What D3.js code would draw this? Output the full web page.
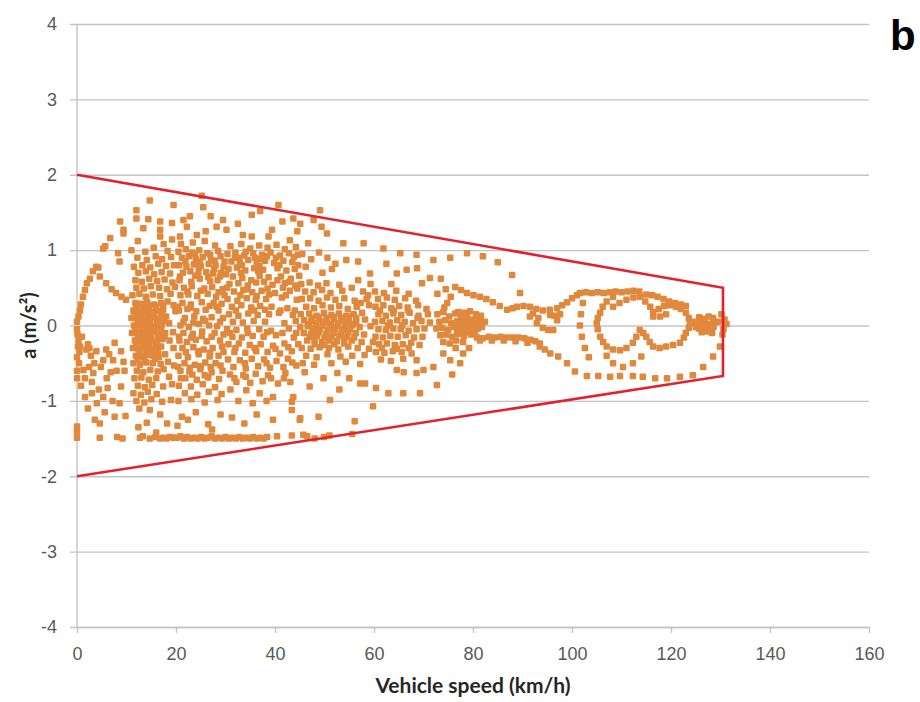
<!DOCTYPE html>
<html>
<head>
<meta charset="utf-8">
<script src="https://cdn.jsdelivr.net/npm/d3@7"></script>
<style>
  body { margin: 0; background: #fff; }
  svg { display: block; font-family: Lato, "Open Sans", sans-serif; }
</style>
</head>
<body>
<svg width="920" height="702"></svg>
<script>
// axis ticks
const speedTicks = [0, 20, 40, 60, 80, 100, 120, 140, 160];
const accelTicks = [-4, -3, -2, -1, 0, 1, 2, 3, 4];

// red envelope (speed, accel)
const envSpeed = [0, 130.5, 130.5, 0];
const envAccel = [2, 0.5, -0.67, -2];

// measured points [speed km/h, a m/s2], grouped by speed range
const pts0to10 = [
  [0,0.05],[0,-0.05],[0.1,-0.12],[0.3,0.12],[0.3,-0.2],[0.2,-0.28],[0.6,0.2],[0.5,-0.35],[0,-0.42],
  [0.8,0.28],[1.2,0.38],[1.6,0.47],[2.0,0.56],[2.6,0.62],[3.2,0.72],[3.9,0.78],[4.3,0.77],
  [4.6,0.65],[5.9,0.56],[7.0,0.48],[7.9,0.43],[9.0,0.38],[9.9,0.34],
  [5.3,1.02],[5.7,1.05],[6.7,1.16],[8.3,0.96],[8.6,0.85],[9.4,1.22],[8.7,1.38],[9.4,1.27],
  [0.6,-0.28],[1.9,-0.32],[3.9,-0.34],[5.9,-0.32],[7.6,-0.23],[8.9,-0.34],[5.3,-0.46],[7.3,-0.46],[9.4,-0.48],
  [1.3,-0.59],[3.3,-0.63],[1.6,-0.7],[2.4,-0.55],[8.9,-0.81],[6.2,-0.83],[3.0,-0.9],
  [1.6,-0.95],[4.0,-1.03],[5.3,-0.95],[8.6,-1.03],[7.6,-1.21],[9.6,-0.6],[0,-0.6],[0,-0.7],
  [0,-1.34],[0,-1.41],[0,-1.49],[4.6,-1.49],[8.1,-1.48],[9.2,-1.5],[2.2,-1.1],[4.6,-1.3],
  [2.8,-0.4],[4.8,-0.55],[6.8,-0.62],[8.0,-0.6],[6.5,-0.38],[3.5,-0.5],[0.4,-0.5],
  [1.0,-0.15],[2.2,-0.25],[3.0,-0.75],[4.4,-0.85],[6.0,-0.7],[7.2,-1.0],[2.5,-0.3],[0.8,-0.8],[5.6,-1.15],[9.8,-1.2],[3.6,-1.25]
];

const pts10to20 = [
  [14.7,1.66],[19.5,1.6],[12,1.53],[14.4,1.41],[16.8,1.38],[19.2,1.36],[12,1.42],[16.8,1.27],[13.4,1.29],[16.8,1.18],
  [12.3,1.12],[17.5,1.08],[19.2,1.14],
  [11.0,1.0],[13.8,0.98],[15.5,1.03],[18.3,0.99],
  [12.2,0.9],[14.1,0.87],[15.9,0.92],[17.2,0.88],[19.0,0.91],
  [11.5,0.78],[13.2,0.8],[14.8,0.77],[16.4,0.82],[18.0,0.79],[19.6,0.8],
  [12.4,0.7],[13.9,0.72],[15.6,0.68],[17.1,0.71],[18.8,0.69],
  [11.8,0.6],[13.1,0.58],[14.6,0.62],[16.2,0.59],[17.7,0.61],[19.3,0.57],
  [12.0,0.5],[13.5,0.49],[14.9,0.52],[16.6,0.5],[18.2,0.48],[19.8,0.51],
  [11.2,0.4],[12.6,0.42],[13.9,0.38],[15.3,0.41],[16.8,0.39],[18.9,0.42],
  [11.8,0.3],[13.0,0.29],[14.2,0.31],[15.6,0.28],[17.0,0.3],[18.3,0.32],[19.5,0.27],
  [11.4,0.2],[12.6,0.19],[13.7,0.22],[14.9,0.18],[16.1,0.2],[17.4,0.21],[19.9,0.19],
  [11.0,0.1],[12.1,0.12],[13.2,0.08],[14.4,0.1],[15.5,0.11],[16.7,0.09],[18.0,0.12],
  [11.5,0.0],[12.6,0.02],[13.7,-0.01],[14.8,0.01],[15.9,-0.02],[17.1,0.0],[18.6,0.03],
  [11.1,-0.1],[12.2,-0.09],[13.3,-0.11],[14.3,-0.1],[15.4,-0.08],[16.6,-0.12],[17.8,-0.1],[19.4,-0.09],
  [11.7,-0.2],[12.8,-0.21],[13.9,-0.19],[15.0,-0.2],[16.2,-0.22],[17.3,-0.18],[18.7,-0.2],
  [11.3,-0.3],[12.4,-0.31],[13.5,-0.29],[14.6,-0.3],[15.8,-0.32],[17.0,-0.28],[19.5,-0.3],
  [11.9,-0.4],[13.1,-0.41],[14.2,-0.39],[15.4,-0.4],[16.5,-0.42],[17.8,-0.38],
  [11.4,-0.5],[12.7,-0.52],[14.0,-0.49],[15.3,-0.5],[16.9,-0.51],[18.4,-0.48],[19.6,-0.53],
  [12.1,-0.6],[13.4,-0.62],[14.8,-0.59],[16.3,-0.61],[17.5,-0.58],
  [11.6,-0.7],[13.0,-0.69],[14.5,-0.72],[16.0,-0.7],[18.6,-0.68],
  [12.3,-0.8],[13.7,-0.82],[15.2,-0.79],[17.4,-0.81],[19.2,-0.78],
  [11.4,-0.9],[12.9,-0.92],[14.3,-0.88],[16.1,-0.91],
  [12.0,-1.0],[13.6,-1.02],[15.0,-0.98],[17.2,-1.01],[19.0,-0.99],
  [12.6,-1.1],[14.7,-1.12],[16.8,-1.18],[14.1,-1.29],[12.4,-1.35],[16.0,-1.42],[18.2,-1.3],
  [12.7,-1.49],[13.3,-1.47],[14.7,-1.5],[15.8,-1.48],[16.8,-1.5],[17.4,-1.49],[18.1,-1.5],[18.8,-1.48],[19.5,-1.49]
];

const pts20to30 = [
  [20.8,1.18],[22.2,1.31],[24.2,1.2],[25.5,1.57],[25.2,1.72],[22.8,1.45],[27.0,1.45],[28.2,1.31],[29.5,1.4],[21.5,1.4],[26.0,1.25],
  [21.0,1.08],[23.4,1.1],[25.8,1.12],[27.9,1.06],
  [20.5,0.98],[22.0,1.01],[23.3,0.97],[24.7,1.0],[26.3,0.96],[28.5,0.99],
  [21.2,0.9],[22.6,0.92],[24.0,0.88],[25.4,0.91],[27.1,0.87],[29.0,0.92],
  [20.6,0.8],[22.1,0.78],[23.6,0.81],[25.0,0.79],[26.6,0.82],[28.0,0.8],[29.6,0.78],
  [21.4,0.7],[22.9,0.72],[24.5,0.68],[26.1,0.71],[27.5,0.69],[29.1,0.7],
  [20.7,0.6],[23.1,0.58],[24.8,0.62],[26.9,0.59],[28.4,0.6],
  [21.6,0.5],[23.2,0.52],[25.7,0.49],[27.3,0.51],[29.4,0.48],
  [20.9,0.4],[22.5,0.41],[24.3,0.39],[26.4,0.42],[28.1,0.38],[29.8,0.4],
  [21.3,0.3],[23.0,0.28],[25.2,0.31],[27.6,0.3],[29.2,0.29],
  [20.6,0.2],[22.3,0.22],[24.1,0.19],[26.0,0.21],[28.6,0.2],
  [21.8,0.1],[23.7,0.12],[25.5,0.09],[27.2,0.11],[29.5,0.1],
  [20.9,0.0],[22.6,-0.02],[24.6,0.02],[26.7,0.0],[28.3,-0.01],
  [21.5,-0.1],[23.4,-0.11],[25.3,-0.08],[27.8,-0.1],[29.6,-0.12],
  [20.7,-0.2],[22.2,-0.22],[24.0,-0.19],[26.2,-0.21],[28.9,-0.2],
  [21.3,-0.3],[23.5,-0.29],[25.6,-0.32],[27.4,-0.3],[29.3,-0.28],
  [20.5,-0.4],[22.4,-0.42],[24.6,-0.38],[26.8,-0.41],[28.6,-0.4],
  [21.7,-0.5],[23.8,-0.52],[25.9,-0.49],[28.0,-0.5],
  [20.9,-0.6],[22.7,-0.61],[24.9,-0.58],[27.2,-0.62],[29.4,-0.6],
  [21.9,-0.7],[24.2,-0.72],[26.5,-0.69],[28.7,-0.71],
  [20.6,-0.8],[23.0,-0.81],[25.4,-0.78],[27.9,-0.82],
  [21.8,-0.9],[24.3,-0.92],[26.6,-0.88],[29.2,-0.91],
  [20.5,-1.0],[23.1,-0.98],[25.8,-1.02],[28.4,-0.99],
  [21.2,-1.21],[22.4,-1.25],[26.5,-1.31],[27.3,-1.38],[24.0,-1.15],[29.0,-1.18],[20.3,-1.33],
  [20.2,-1.49],[20.9,-1.47],[21.6,-1.5],[22.3,-1.48],[23.0,-1.5],[23.7,-1.49],[24.4,-1.5],[25.1,-1.48],
  [25.8,-1.5],[26.5,-1.49],[27.2,-1.47],[27.9,-1.5],[28.6,-1.49]
];

const pts30to45 = [
  [30.2,1.27],[35.3,1.47],[40.7,1.6],[43.7,1.42],[39.4,1.27],[35.3,1.18],[38.7,1.18],[43.0,1.13],[32.5,1.35],[37.0,1.52],[41.5,1.38],[44.5,1.25],[33.5,1.2],
  [31.0,1.05],[33.2,1.08],[35.0,1.02],[36.8,1.06],[38.5,1.03],[40.3,1.07],[42.0,1.01],[44.2,1.04],
  [30.4,0.95],[32.0,0.97],[33.8,0.93],[35.6,0.96],[37.4,0.94],[39.1,0.97],[41.0,0.93],[42.8,0.96],[44.6,0.94],
  [31.2,0.85],[32.9,0.83],[34.6,0.87],[36.3,0.84],[38.0,0.86],[39.8,0.83],[41.7,0.86],[43.5,0.84],
  [30.6,0.75],[32.3,0.77],[34.0,0.73],[35.8,0.76],[37.6,0.74],[40.5,0.76],[42.3,0.73],[44.0,0.75],
  [31.5,0.65],[33.4,0.63],[36.9,0.66],[38.7,0.64],[41.2,0.65],[43.2,0.62],[44.9,0.66],
  [30.8,0.55],[32.6,0.56],[34.5,0.53],[36.2,0.57],[39.5,0.54],[42.0,0.56],[44.1,0.53],
  [31.7,0.45],[33.6,0.47],[35.4,0.44],[37.3,0.46],[40.0,0.43],[43.0,0.46],
  [30.4,0.35],[32.4,0.33],[34.3,0.36],[36.1,0.34],[38.2,0.35],[41.4,0.37],[44.4,0.34],
  [31.3,0.25],[33.2,0.27],[35.2,0.24],[37.0,0.26],[39.3,0.25],[42.5,0.23],
  [30.7,0.15],[32.6,0.13],[34.6,0.16],[36.5,0.14],[38.8,0.15],[40.8,0.17],[43.6,0.14],
  [31.5,0.05],[33.5,0.04],[35.7,0.06],[38.0,0.05],[41.9,0.03],[44.2,0.06],
  [30.3,-0.05],[32.2,-0.06],[34.4,-0.04],[36.8,-0.05],[39.2,-0.07],[42.8,-0.04],
  [31.4,-0.15],[33.3,-0.16],[35.5,-0.14],[37.7,-0.15],[40.2,-0.13],[43.8,-0.16],
  [30.6,-0.25],[32.7,-0.24],[34.9,-0.26],[37.1,-0.25],[39.6,-0.27],[41.9,-0.24],[44.7,-0.25],
  [31.8,-0.35],[34.0,-0.36],[36.2,-0.34],[38.5,-0.35],[41.0,-0.37],[43.4,-0.34],
  [30.5,-0.45],[32.9,-0.46],[35.3,-0.44],[37.8,-0.45],[40.3,-0.47],[42.6,-0.44],
  [31.6,-0.55],[34.1,-0.57],[36.6,-0.54],[39.0,-0.56],[41.7,-0.55],[44.3,-0.53],
  [30.9,-0.65],[33.6,-0.66],[36.1,-0.64],[38.6,-0.66],[42.1,-0.63],
  [32.2,-0.75],[35.0,-0.76],[37.5,-0.74],[40.6,-0.77],[43.1,-0.75],
  [31.0,-0.85],[34.2,-0.86],[36.9,-0.9],[39.6,-0.95],[43.7,-0.95],
  [32.6,-1.0],[35.5,-1.03],[38.3,-1.0],[43.4,-1.01],[43.4,-1.12],
  [31.3,-1.22],[36.3,-1.18],[39.6,-1.25],[45.0,-1.25],[33.8,-1.3],
  [29.3,-1.5],[30.0,-1.48],[30.7,-1.5],[31.4,-1.49],[32.1,-1.5],[32.8,-1.48],[33.5,-1.5],[34.2,-1.49],
  [34.9,-1.5],[35.6,-1.48],[36.3,-1.5],[37.0,-1.49],[37.7,-1.5],[38.4,-1.48],[40.4,-1.47],[43.4,-1.46],[45.7,-1.45]
];

const pts45to60 = [
  [49.1,1.53],[45.1,1.35],[49.4,1.31],[46.7,1.09],[53.8,1.09],[57.9,1.09],[50.5,1.22],[47.8,1.4],
  [45.5,0.95],[47.3,0.88],[48.9,0.97],[50.6,0.9],[52.2,0.82],[54.4,0.87],[56.8,0.85],[59.2,0.69],[56.8,0.6],[51.5,0.75],[46.2,0.78],[49.6,0.7],
  [45.3,0.55],[47.0,0.57],[48.7,0.53],[50.4,0.56],[53.0,0.54],[55.5,0.5],
  [46.1,0.45],[47.8,0.44],[49.5,0.47],[51.2,0.43],[53.6,0.46],[57.8,0.45],
  [45.4,0.35],[47.1,0.36],[48.8,0.33],[50.5,0.37],[52.2,0.34],[54.0,0.36],[56.1,0.33],[58.5,0.35],
  [46.3,0.25],[47.9,0.23],[49.6,0.27],[51.3,0.24],[53.0,0.26],[54.7,0.22],[56.5,0.25],[59.0,0.27],
  [45.2,0.15],[46.9,0.16],[48.4,0.13],[49.9,0.17],[51.4,0.14],[52.9,0.16],[54.4,0.13],[55.9,0.15],[57.6,0.17],
  [45.9,0.07],[47.4,0.06],[48.9,0.08],[50.4,0.05],[51.9,0.08],[53.4,0.06],[54.9,0.07],[56.4,0.05],[58.2,0.08],
  [45.1,-0.02],[46.6,-0.01],[48.1,-0.03],[49.6,0.0],[51.1,-0.02],[52.6,-0.01],[54.1,-0.03],[55.6,0.0],[57.1,-0.02],[59.3,-0.01],
  [45.8,-0.1],[47.3,-0.11],[48.8,-0.09],[50.3,-0.12],[51.8,-0.1],[53.3,-0.11],[54.8,-0.09],[56.3,-0.1],[58.0,-0.12],
  [46.5,-0.2],[48.0,-0.19],[49.5,-0.22],[51.0,-0.2],[52.5,-0.21],[54.0,-0.18],[55.5,-0.2],[57.5,-0.22],
  [45.4,-0.3],[47.2,-0.31],[49.0,-0.29],[50.9,-0.3],[52.8,-0.32],[54.8,-0.28],[56.7,-0.3],[59.0,-0.31],
  [46.3,-0.4],[48.4,-0.42],[50.6,-0.38],[53.2,-0.41],[55.6,-0.4],[58.1,-0.39],
  [45.6,-0.5],[47.9,-0.52],[51.4,-0.5],[54.3,-0.48],[57.2,-0.51],
  [49.8,-0.7],[47.0,-0.81],[45.1,-1.23],[48.8,-1.21],[51.1,-0.99],[56.1,-1.27],[59.8,-1.07],[58.2,-0.77],
  [46.0,-0.62],[52.6,-0.63],[55.0,-0.7],[53.0,-0.85],
  [46.5,-1.47],[48.0,-1.5],[49.9,-1.48],[51.0,-1.46],[55.6,-1.44]
];

const pts60to75 = [
  [61.9,1.02],[65.3,0.96],[64.6,0.69],[66.6,0.74],[68.6,0.94],[68.7,0.76],[62.5,0.82],[71.3,0.63],[69.7,0.56],[72.0,0.87],[63.5,0.55],
  [60.2,0.45],[62.0,0.43],[64.5,0.46],[67.0,0.42],
  [60.8,0.35],[62.6,0.37],[64.2,0.34],[66.3,0.36],[68.5,0.33],
  [60.3,0.25],[61.9,0.27],[63.5,0.23],[65.1,0.26],[66.8,0.24],[68.9,0.27],[70.6,0.22],
  [60.9,0.15],[62.4,0.13],[63.9,0.16],[65.5,0.14],[67.2,0.17],[69.0,0.13],[70.9,0.15],
  [60.2,0.05],[61.7,0.06],[63.2,0.04],[64.7,0.07],[66.2,0.05],[67.9,0.03],[69.6,0.06],[71.3,0.04],
  [60.9,-0.05],[62.4,-0.06],[63.9,-0.04],[65.4,-0.05],[67.0,-0.07],[68.6,-0.05],[70.2,-0.04],
  [60.3,-0.15],[61.8,-0.16],[63.3,-0.14],[64.8,-0.15],[66.4,-0.13],[68.1,-0.16],[69.8,-0.15],
  [61.0,-0.25],[62.6,-0.24],[64.2,-0.26],[65.8,-0.25],[67.5,-0.23],[69.2,-0.26],
  [60.4,-0.35],[62.1,-0.36],[63.8,-0.34],[65.6,-0.35],[67.6,-0.37],
  [61.4,-0.45],[63.4,-0.47],[65.9,-0.44],[68.6,-0.46],
  [60.4,-0.83],[62.9,-0.9],[65.9,-0.9],[64.6,-0.59],[69.3,-0.9],[57.2,-0.77],[68.6,-0.63],[70.0,-0.59],
  [72.0,-0.55],[72.7,-0.79],[66.0,-0.62]
];

const pts75to100 = [
  [75.4,0.9],[78.8,0.96],[82.0,0.92],[85.0,0.84],[87.9,0.67],[89.5,0.43],[73.5,0.62],[74.5,0.48],[72.8,0.42],
  [72.8,0.15],[74.0,0.18],[75.2,0.12],[76.4,0.16],[77.6,0.1],[78.8,0.13],[80.0,0.08],[81.2,0.1],
  [73.2,0.05],[74.4,0.07],[75.6,0.03],[76.8,0.06],[78.0,0.02],[79.2,0.05],[80.4,0.01],[81.6,0.03],[82.4,0.05],
  [72.6,-0.04],[73.8,-0.03],[75.0,-0.06],[76.2,-0.02],[77.4,-0.05],[78.6,-0.03],[79.8,-0.06],[81.0,-0.04],
  [73.4,-0.13],[74.6,-0.12],[75.8,-0.15],[77.0,-0.11],[78.2,-0.14],[79.6,-0.12],
  [74.0,-0.22],[75.3,-0.24],[76.6,-0.2],[78.0,-0.22],
  [76.4,0.51],[77.6,0.47],[78.8,0.43],[80.1,0.4],[81.4,0.38],[82.7,0.35],[84.0,0.31],[85.4,0.26],[86.9,0.21],
  [88.0,0.23],[88.9,0.25],[90.2,0.26],[91.5,0.25],[92.8,0.22],[94.1,0.2],[95.5,0.21],[97.0,0.23],[98.0,0.27],[99.0,0.31],[100.0,0.36],
  [74.8,0.3],[75.5,0.38],[74.2,0.24],
  [80.8,-0.16],[82.0,-0.17],[83.2,-0.15],[84.4,-0.16],[85.6,-0.15],[86.8,-0.16],[88.0,-0.16],[89.2,-0.16],
  [90.4,-0.17],[91.6,-0.19],[92.6,-0.21],[93.5,-0.24],
  [81.4,-0.2],[83.8,-0.2],[86.2,-0.2],[88.6,-0.21],[91.0,-0.23],
  [92.1,0.16],[92.9,0.03],[94.1,-0.03],[95.2,-0.06],[96.2,-0.06],[97.0,0.07],[96.4,0.13],[95.6,0.14],[91.5,0.12],[93.2,0.1],[97.6,0.15],
  [93.5,-0.28],[94.5,-0.32],[95.6,-0.37],[97.2,-0.41],[99.0,-0.5],
  [75.4,-0.46],[77.4,-0.5],[78.0,-0.37],[74.0,-0.37],[75.8,-0.65],[79.2,-0.3],[76.5,-0.3]
];

const pts100to132 = [
  [101.0,0.4],[101.6,0.43],[102.8,0.44],[104.0,0.43],[105.2,0.44],[106.4,0.43],[107.6,0.44],[108.8,0.45],[110.0,0.44],[111.2,0.45],
  [112.4,0.46],[113.6,0.45],[115.0,0.41],[116.2,0.4],[117.3,0.38],[118.5,0.35],[119.6,0.32],[120.8,0.3],[122.0,0.28],[123.0,0.26],
  [108.3,0.38],[107.0,0.32],[106.2,0.25],[105.7,0.17],[105.2,0.1],[105.0,0.03],[105.2,-0.05],[105.7,-0.15],[106.3,-0.22],
  [107.0,-0.28],[108.3,-0.32],[109.7,-0.33],[111.0,-0.3],[112.3,-0.23],[113.0,-0.15],[113.7,-0.06],[114.4,-0.1],[115.0,-0.15],
  [115.7,-0.22],[116.4,-0.28],[117.7,-0.3],[119.0,-0.28],[120.4,-0.26],[121.8,-0.23],[122.6,-0.16],[123.0,-0.1],[123.6,-0.03],
  [123.8,0.03],[123.6,0.1],[123.0,0.17],[122.0,0.22],[121.0,0.25],[119.8,0.27],[118.6,0.26],[117.5,0.22],
  [108.3,0.25],[109.6,0.3],[111.0,0.34],[112.4,0.37],[113.7,0.38],[114.8,0.32],[115.8,0.25],[116.4,0.18],[116.4,0.12],[117.8,0.12],[119.0,0.15],
  [102.2,0.3],[101.8,0.15],[101.6,0.0],[102.0,-0.15],[102.6,-0.3],[103.4,-0.42],
  [100.6,-0.61],[103.0,-0.67],[105.3,-0.67],[107.7,-0.68],[109.7,-0.67],[112.3,-0.67],[114.3,-0.68],[116.8,-0.7],
  [119.2,-0.7],[121.8,-0.68],[124.4,-0.66],[126.5,-0.55],[128.5,-0.41],[129.9,-0.28],
  [108.3,-0.5],[110.3,-0.55],[112.3,-0.5],[114.0,-0.41],[107.0,-0.4],
  [125.7,0.11],[126.6,0.09],[127.6,0.12],[128.5,0.1],[125.9,0.03],[126.9,0.05],[127.9,0.02],[128.7,0.04],
  [125.6,-0.04],[126.7,-0.03],[127.7,-0.05],[128.6,-0.02],[126.2,-0.09],[127.4,-0.08],[128.3,-0.1],
  [130.2,0.15],[130.8,0.08],[131.2,0.02],[130.6,-0.05],[130.4,-0.12],[129.6,0.05],[124.6,0.05],[125.0,-0.02]
];

// extra points where the cloud is packed solid
const densePts = [
  [12.0,0.25],[13.3,0.24],[14.6,0.26],[16.0,0.25],[17.4,0.26],
  [11.6,0.15],[12.9,0.14],[14.2,0.16],[15.5,0.15],[16.9,0.14],
  [12.2,0.05],[13.5,0.06],[14.8,0.04],[16.2,0.05],[17.6,0.06],
  [11.8,-0.05],[13.1,-0.04],[14.4,-0.06],[15.7,-0.05],[17.0,-0.04],
  [12.3,-0.15],[13.6,-0.14],[14.9,-0.16],[16.3,-0.15],[17.7,-0.14],
  [12.0,-0.25],[13.3,-0.26],[14.6,-0.24],[15.9,-0.25],
  [12.6,-0.35],[13.9,-0.34],[15.1,-0.36],[16.4,-0.35],
  [12.2,-0.45],[13.6,-0.46],[15.8,-0.44],
  [47.4,0.1],[48.9,0.11],[50.4,0.1],[51.9,0.11],[53.4,0.1],[54.9,0.12],[56.4,0.1],
  [46.8,0.02],[48.3,0.03],[49.8,0.04],[51.3,0.02],[52.8,0.03],[54.3,0.04],[55.8,0.02],
  [47.6,-0.06],[49.1,-0.05],[50.6,-0.06],[52.1,-0.05],[53.6,-0.06],[55.1,-0.05],
  [47.0,-0.15],[48.5,-0.14],[50.0,-0.16],[51.5,-0.15],[53.0,-0.14],[54.5,-0.15],[56.0,-0.16],
  [48.0,-0.25],[50.0,-0.26],[52.0,-0.25],[54.0,-0.24],
  [77.0,0.18],[78.2,0.17],[79.4,0.19],[80.6,0.15],[81.6,0.13],
  [77.2,0.0],[78.4,0.08],[79.6,0.0],[80.8,0.06],[81.8,-0.02],
  [76.8,-0.08],[78.0,-0.08],[79.2,-0.09],[80.4,-0.1],
  [23.8,0.95],[26.9,0.94],[29.8,0.85],[31.9,0.9],[34.1,0.98],[36.0,0.9],[38.4,0.92],
  [24.6,0.76],[27.7,0.75],[30.1,0.68],[33.1,0.7],[36.6,0.72]
];

// more points between the rows of the 20-70 km/h cloud
const fillPts = [
  [21.9,0.85],[24.8,0.84],[27.8,0.86],
  [20.8,0.65],[23.9,0.66],[26.5,0.64],[28.9,0.65],
  [22.3,0.45],[25.0,0.46],[28.6,0.44],
  [20.4,0.25],[22.9,0.24],[26.8,0.26],[28.2,0.25],
  [21.5,0.05],[23.5,0.04],[25.9,0.06],[28.9,0.05],
  [20.6,-0.15],[23.1,-0.16],[25.2,-0.14],[27.2,-0.15],
  [22.0,-0.35],[24.5,-0.34],[26.9,-0.36],[29.6,-0.35],
  [20.4,-0.55],[22.8,-0.56],[25.0,-0.54],[27.0,-0.55],[29.0,-0.53],
  [23.3,-0.65],[25.8,-0.66],[21.0,-0.7],
  [32.8,0.9],[37.0,0.88],[40.2,0.9],[43.8,0.91],
  [33.3,0.8],[36.9,0.79],[40.9,0.8],[44.7,0.8],
  [35.2,0.6],[37.8,0.58],[40.5,0.6],[42.9,0.58],
  [30.3,0.5],[34.4,0.48],[38.5,0.49],[41.6,0.5],[44.5,0.49],
  [33.0,0.4],[36.3,0.39],[38.8,0.41],[42.2,0.4],
  [32.1,0.2],[35.8,0.2],[38.0,0.21],[41.1,0.2],[44.0,0.2],
  [30.9,-0.1],[34.5,-0.1],[38.4,-0.09],[41.5,-0.1],[44.3,-0.1],
  [32.0,-0.3],[35.9,-0.3],[40.1,-0.31],[42.7,-0.29],
  [33.9,-0.5],[38.3,-0.5],[43.5,-0.49],
  [31.8,-0.7],[34.1,-0.68],[39.2,-0.7],[41.8,-0.7],
  [59.3,0.55],[61.2,0.2],[64.0,0.2],[66.9,0.2],[62.8,0.0],[65.7,0.0],[68.8,0.1],
  [61.6,-0.3],[64.6,-0.31],[67.0,-0.3],[59.8,-0.22],[58.8,0.4],[57.3,0.3]
];

const allPts = [].concat(pts0to10, pts10to20, pts20to30, pts30to45, pts45to60, pts60to75, pts75to100, pts100to132, densePts, fillPts);

const margin = { top: 24, right: 51, bottom: 75, left: 77 },
    width = 920 - margin.left - margin.right,
    height = 702 - margin.top - margin.bottom;

const x = d3.scaleLinear().domain([0, 160]).range([0, width]);
const y = d3.scaleLinear().domain([-4, 4]).range([height, 0]);

const svg = d3.select("svg")
    .append("g")
    .attr("transform", "translate(" + margin.left + "," + margin.top + ")");

// horizontal grid + y labels (plain hyphen for negatives, like the original)
const yAxis = svg.append("g")
    .call(d3.axisLeft(y).tickValues(accelTicks).tickSize(-width).tickPadding(20).tickFormat(d => String(d)));
yAxis.select(".domain").remove();
yAxis.selectAll(".tick line")
    .attr("x1", -7)
    .attr("stroke", "#c4c4c4")
    .attr("stroke-width", 1.4);
yAxis.selectAll(".tick text")
    .attr("fill", "#595959")
    .style("font-size", "18px");

// y axis line
svg.append("line")
    .attr("x1", 0).attr("x2", 0)
    .attr("y1", 0).attr("y2", height)
    .attr("stroke", "#c4c4c4")
    .attr("stroke-width", 1.4);

// x axis
const xAxis = svg.append("g")
    .attr("transform", "translate(0," + height + ")")
    .call(d3.axisBottom(x).tickValues(speedTicks).tickSize(6).tickSizeOuter(0).tickPadding(14).tickFormat(d => String(d)));
xAxis.select(".domain").attr("stroke", "#c4c4c4").attr("stroke-width", 1.4);
xAxis.selectAll(".tick line").attr("stroke", "#c4c4c4").attr("stroke-width", 1.4);
xAxis.selectAll(".tick text")
    .attr("fill", "#595959")
    .style("font-size", "18px");

// scatter points
const ms = 6.5;
svg.append("g")
    .selectAll("rect")
    .data(allPts)
    .enter()
    .append("rect")
        .attr("x", d => x(d[0]) - ms / 2)
        .attr("y", d => y(d[1]) - ms / 2)
        .attr("width", ms)
        .attr("height", ms)
        .attr("rx", 1.2)
        .attr("fill", "#e0883c");

// red envelope
const envelope = envSpeed.map((s, i) => [s, envAccel[i]]);
svg.append("path")
    .datum(envelope)
    .attr("fill", "none")
    .attr("stroke", "#e3202c")
    .attr("stroke-width", 2.6)
    .attr("d", d3.line().x(d => x(d[0])).y(d => y(d[1])));

// axis titles
svg.append("text")
    .attr("x", width / 2)
    .attr("y", height + 66)
    .attr("text-anchor", "middle")
    .style("font-size", "21px")
    .style("font-weight", "bold")
    .attr("fill", "#262626")
    .text("Vehicle speed (km/h)");

svg.append("text")
    .attr("transform", "translate(-41," + y(0) + ") rotate(-90)")
    .attr("text-anchor", "middle")
    .style("font-size", "20px")
    .style("font-weight", "bold")
    .attr("fill", "#262626")
    .text("a (m/s²)");

// panel letter
d3.select("svg").append("text")
    .attr("x", 890)
    .attr("y", 50)
    .style("font-family", "'Liberation Sans', Arial, sans-serif")
    .style("font-size", "42px")
    .style("font-weight", "bold")
    .attr("fill", "#000")
    .text("b");
</script>
</body>
</html>
